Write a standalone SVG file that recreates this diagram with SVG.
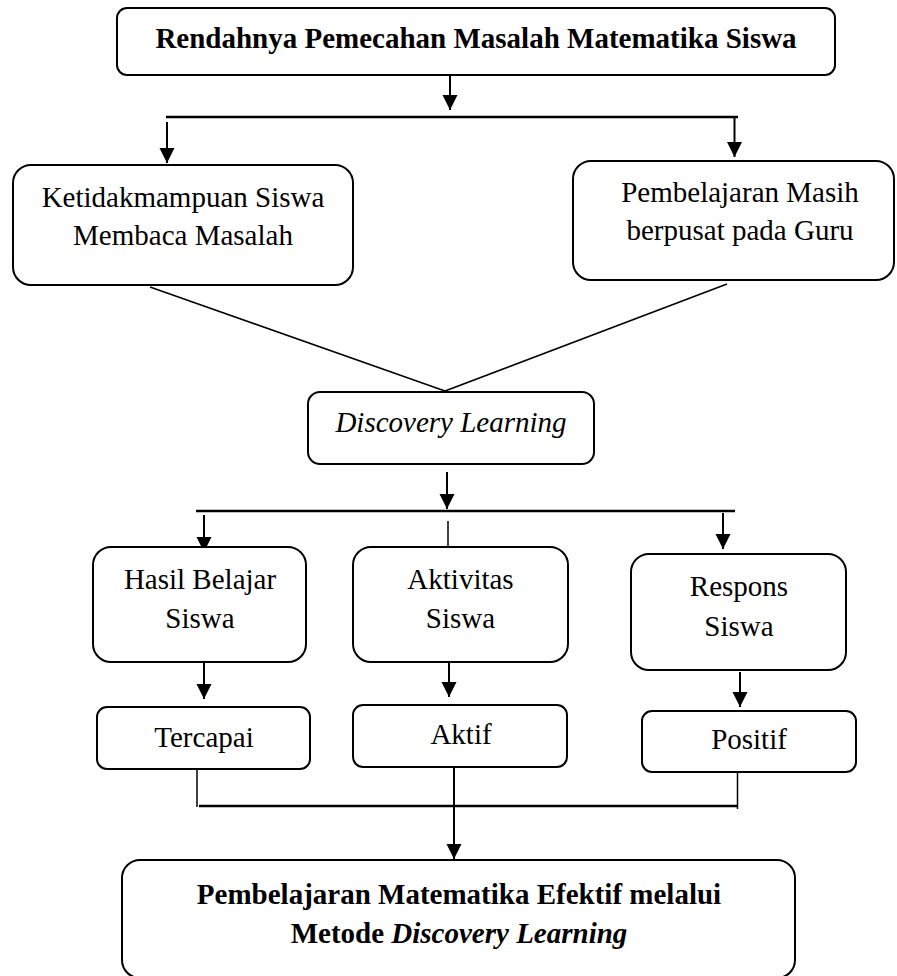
<svg xmlns="http://www.w3.org/2000/svg" width="897" height="976" viewBox="0 0 897 976">
<style>
.box{fill:#fff;stroke:#000;stroke-width:2}
.t{font-family:"Liberation Serif","Times New Roman",serif;font-size:29px;fill:#000;text-anchor:middle}
.b{font-weight:bold}
.i{font-style:italic}
.c{stroke:#000;stroke-width:2;fill:none}
.thin{stroke:#000;stroke-width:1.5;fill:none}
.bar{stroke:#000;stroke-width:2.5;fill:none}
</style>
<defs>
<marker id="ah" markerUnits="userSpaceOnUse" markerWidth="16" markerHeight="16" refX="15" refY="7.5" orient="auto">
<path d="M0,0 L15,7.5 L0,15 Z" fill="#000"/>
</marker>
</defs>
<rect width="897" height="976" fill="#fff"/>
<g id="connectors">
<line class="c" x1="450" y1="72" x2="450" y2="110" marker-end="url(#ah)"/>
<line class="bar" x1="166" y1="117" x2="738" y2="117"/>
<line class="c" x1="167" y1="122" x2="167" y2="163" marker-end="url(#ah)"/>
<line class="c" x1="734.5" y1="117" x2="734.5" y2="157" marker-end="url(#ah)"/>
<line class="thin" x1="150" y1="287" x2="445" y2="391"/>
<line class="thin" x1="727" y1="284" x2="445" y2="391"/>
<line class="c" x1="447" y1="472" x2="447" y2="509" marker-end="url(#ah)"/>
<line class="bar" x1="196" y1="511" x2="735" y2="511"/>
<line class="c" x1="204" y1="515" x2="204" y2="552" marker-end="url(#ah)"/>
<line class="thin" x1="448" y1="521" x2="448" y2="547"/>
<line class="c" x1="723" y1="513" x2="723" y2="549" marker-end="url(#ah)"/>
<line class="c" x1="204" y1="663" x2="204" y2="699" marker-end="url(#ah)"/>
<line class="c" x1="449" y1="662" x2="449" y2="697" marker-end="url(#ah)"/>
<line class="c" x1="740" y1="672" x2="740" y2="707" marker-end="url(#ah)"/>
<line class="thin" x1="197" y1="769" x2="197" y2="807"/>
<line class="thin" x1="737.5" y1="772" x2="737.5" y2="809"/>
<line class="bar" x1="199" y1="806" x2="737" y2="806"/>
<line class="c" x1="454" y1="767" x2="454" y2="859" marker-end="url(#ah)"/>
</g>
<g id="n-top">
<rect class="box" x="117" y="8" width="718" height="67" rx="10"/>
<text class="t b" x="476" y="48">Rendahnya Pemecahan Masalah Matematika Siswa</text>
</g>
<g id="n-ketidakmampuan">
<rect class="box" x="13" y="165" width="340" height="120" rx="18"/>
<text class="t" x="183" y="207">Ketidakmampuan Siswa</text>
<text class="t" x="183" y="245">Membaca Masalah</text>
</g>
<g id="n-pembelajaran">
<rect class="box" x="573" y="161" width="321" height="119" rx="18"/>
<text class="t" x="740" y="202">Pembelajaran Masih</text>
<text class="t" x="740" y="240">berpusat pada Guru</text>
</g>
<g id="n-discovery">
<rect class="box" x="308" y="392" width="286" height="72" rx="12"/>
<text class="t i" x="451" y="432">Discovery Learning</text>
</g>
<g id="n-hasil">
<rect class="box" x="93" y="547" width="213" height="115" rx="18"/>
<text class="t" x="200" y="589">Hasil Belajar</text>
<text class="t" x="200" y="628">Siswa</text>
</g>
<g id="n-aktivitas">
<rect class="box" x="353" y="547" width="215" height="115" rx="18"/>
<text class="t" x="460.5" y="589">Aktivitas</text>
<text class="t" x="460.5" y="628">Siswa</text>
</g>
<g id="n-respons">
<rect class="box" x="631" y="554" width="215" height="116" rx="18"/>
<text class="t" x="739" y="596">Respons</text>
<text class="t" x="739" y="636">Siswa</text>
</g>
<g id="n-tercapai">
<rect class="box" x="97" y="707" width="213" height="62" rx="10"/>
<text class="t" x="204" y="747">Tercapai</text>
</g>
<g id="n-aktif">
<rect class="box" x="353" y="705" width="214" height="62" rx="10"/>
<text class="t" x="461" y="744">Aktif</text>
</g>
<g id="n-positif">
<rect class="box" x="642" y="711" width="214" height="61" rx="10"/>
<text class="t" x="749" y="749">Positif</text>
</g>
<g id="n-bottom">
<rect class="box" x="122" y="860" width="673" height="118" rx="18"/>
<text class="t b" x="459" y="904">Pembelajaran Matematika Efektif melalui</text>
<text class="t b" x="459" y="943">Metode <tspan class="i">Discovery Learning</tspan></text>
</g>
</svg>
